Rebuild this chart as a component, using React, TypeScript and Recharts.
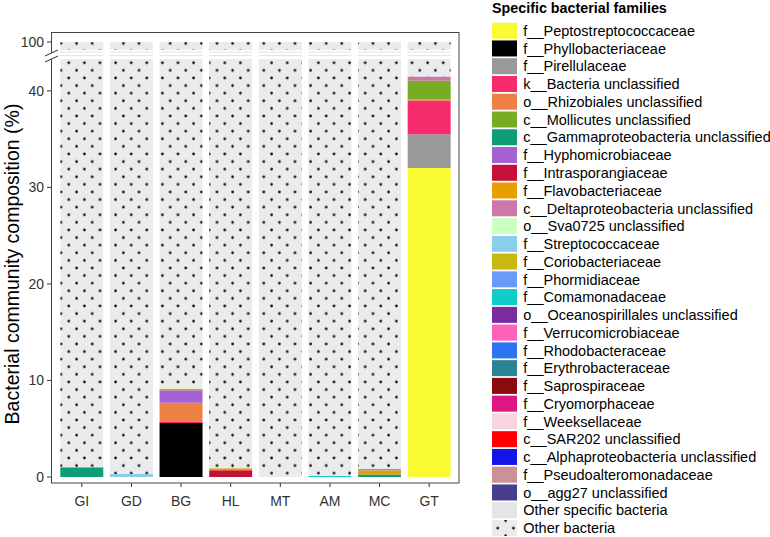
import { BarChart, Bar, XAxis, YAxis } from 'recharts';

const categories = ['GI', 'GD', 'BG', 'HL', 'MT', 'AM', 'MC', 'GT'];

// % of reads per site, same order as categories
const peptostreptococcaceae = [0, 0, 0, 0, 0, 0, 0, 32.0];
const phyllobacteriaceae = [0, 0, 5.6, 0, 0, 0, 0, 0];
const pirellulaceae = [0, 0, 0, 0, 0, 0, 0, 3.5];
const bacteriaUnclassified = [0, 0, 0.1, 0, 0, 0, 0, 3.5];
const rhizobialesUnclassified = [0, 0, 2.0, 0, 0, 0, 0, 0.1];
const mollicutesUnclassified = [0, 0, 0, 0, 0, 0, 0, 1.95];
const gammaproteobacteriaUnclassified = [1.0, 0, 0, 0, 0, 0, 0.25, 0];
const hyphomicrobiaceae = [0, 0, 1.3, 0, 0, 0, 0, 0];
const intrasporangiaceae = [0, 0, 0, 0.7, 0, 0, 0, 0];
const flavobacteriaceae = [0, 0, 0.15, 0.2, 0, 0, 0.45, 0];
const deltaproteobacteriaUnclassified = [0, 0, 0, 0, 0, 0, 0, 0.45];
const sva0725Unclassified = [0, 0, 0.15, 0, 0, 0, 0, 0];
const streptococcaceae = [0, 0.3, 0, 0, 0, 0, 0, 0];
const phormidiaceae = [0, 0, 0, 0, 0, 0, 0.12, 0];
const comamonadaceae = [0, 0, 0, 0, 0, 0.1, 0, 0];
const otherSpecific = [0, 0, 0.1, 0, 0, 0, 0, 0];
const otherBacteria = [99.0, 99.7, 90.6, 99.1, 100, 99.9, 99.18, 58.5];

const lowerTicks = [0, 10, 20, 30, 40];
const upperTicks = [100];

const families: { name: string; color: string; values?: number[] }[] = [
  { name: 'f__Peptostreptococcaceae', color: '#F9F934', values: peptostreptococcaceae },
  { name: 'f__Phyllobacteriaceae', color: '#000000', values: phyllobacteriaceae },
  { name: 'f__Pirellulaceae', color: '#999999', values: pirellulaceae },
  { name: 'k__Bacteria unclassified', color: '#F62B6B', values: bacteriaUnclassified },
  { name: 'o__Rhizobiales unclassified', color: '#EE8244', values: rhizobialesUnclassified },
  { name: 'c__Mollicutes unclassified', color: '#77AD25', values: mollicutesUnclassified },
  { name: 'c__Gammaproteobacteria unclassified', color: '#0F9D77', values: gammaproteobacteriaUnclassified },
  { name: 'f__Hyphomicrobiaceae', color: '#A661D3', values: hyphomicrobiaceae },
  { name: 'f__Intrasporangiaceae', color: '#C5103A', values: intrasporangiaceae },
  { name: 'f__Flavobacteriaceae', color: '#E69F00', values: flavobacteriaceae },
  { name: 'c__Deltaproteobacteria unclassified', color: '#CC79A7', values: deltaproteobacteriaUnclassified },
  { name: 'o__Sva0725 unclassified', color: '#CDFEC2', values: sva0725Unclassified },
  { name: 'f__Streptococcaceae', color: '#89CFEA', values: streptococcaceae },
  { name: 'f__Coriobacteriaceae', color: '#C9B811' },
  { name: 'f__Phormidiaceae', color: '#6A9BFB', values: phormidiaceae },
  { name: 'f__Comamonadaceae', color: '#11CDC9', values: comamonadaceae },
  { name: 'o__Oceanospirillales unclassified', color: '#7A2C9E' },
  { name: 'f__Verrucomicrobiaceae', color: '#FD63B8' },
  { name: 'f__Rhodobacteraceae', color: '#2E74F2' },
  { name: 'f__Erythrobacteraceae', color: '#2A8493' },
  { name: 'f__Saprospiraceae', color: '#8A0B0E' },
  { name: 'f__Cryomorphaceae', color: '#DF1682' },
  { name: 'f__Weeksellaceae', color: '#F9D5E0' },
  { name: 'c__SAR202 unclassified', color: '#FF0000' },
  { name: 'c__Alphaproteobacteria unclassified', color: '#1515E8' },
  { name: 'f__Pseudoalteromonadaceae', color: '#CB9196' },
  { name: 'o__agg27 unclassified', color: '#463F8E' },
];

const OTHER_SPECIFIC = '#E5E5E5';
const OTHER_BG = '#EBEBEB';
const FONT = '"Liberation Sans", Arial, Helvetica, sans-serif';

const rows = categories.map((cat, i) => {
  const row: Record<string, string | number> = { cat };
  families.forEach((f, k) => {
    if (f.values) row[`s${k}`] = f.values[i];
  });
  row.otherSpecific = otherSpecific[i];
  row.otherBacteria = otherBacteria[i];
  return row;
});

const CHART_W = 460;
const X_PAD = { left: 5, right: 5 };
const GAP = 3.3;

function DotPattern({ id }: { id: string }) {
  return (
    <pattern id={id} patternUnits="userSpaceOnUse" x={0} y={0} width={15.6} height={15.2}>
      <rect width={15.6} height={15.2} fill={OTHER_BG} />
      <circle cx={6.4} cy={3.8} r={1.35} fill="#111111" />
      <circle cx={14.2} cy={11.4} r={1.35} fill="#111111" />
    </pattern>
  );
}

function stackBars(otherFill: string) {
  const bars = families
    .map((f, k) =>
      f.values ? (
        <Bar key={f.name} dataKey={`s${k}`} stackId="a" fill={f.color} isAnimationActive={false} />
      ) : null
    )
    .filter(Boolean);
  bars.push(
    <Bar key="otherSpecific" dataKey="otherSpecific" stackId="a" fill={OTHER_SPECIFIC} isAnimationActive={false} />
  );
  bars.push(
    <Bar key="otherBacteria" dataKey="otherBacteria" stackId="a" fill={otherFill} isAnimationActive={false} />
  );
  return bars;
}

const tickStyle = { fill: '#333333', fontSize: 14, fontFamily: FONT };

export default function App() {
  return (
    <div
      style={{
        position: 'absolute',
        left: 0,
        top: 0,
        width: 770,
        height: 537,
        background: '#ffffff',
        fontFamily: FONT,
      }}
    >
      {/* upper panel: 100 */}
      <div style={{ position: 'absolute', left: 0, top: 32 }}>
        <BarChart width={CHART_W} height={18} data={rows} margin={{ top: 10, right: 1, bottom: 0, left: 0 }} barCategoryGap={GAP}>
          <defs>
            <DotPattern id="dots-upper" />
          </defs>
          <XAxis dataKey="cat" hide padding={X_PAD} />
          <YAxis
            width={52}
            domain={[98.8, 100]}
            allowDataOverflow
            ticks={upperTicks}
            axisLine={false}
            tickSize={5}
            tickMargin={3}
            tickLine={{ stroke: '#333333' }}
            tick={tickStyle}
          />
          {stackBars('url(#dots-upper)')}
        </BarChart>
      </div>

      {/* axis break strip */}
      <div style={{ position: 'absolute', left: 0, top: 50 }}>
        <BarChart width={CHART_W} height={9} data={rows} margin={{ top: 0, right: 1, bottom: 0, left: 52 }} barCategoryGap={GAP}>
          <defs>
            <pattern id="break-stripes" patternUnits="userSpaceOnUse" x={0} y={0} width={10} height={9}>
              <rect width={10} height={9} fill="#ffffff" />
              <rect y={1.6} width={10} height={1} fill="#E3E3E3" />
              <rect y={5.1} width={10} height={1} fill="#E3E3E3" />
            </pattern>
          </defs>
          <XAxis dataKey="cat" hide padding={X_PAD} />
          <YAxis hide domain={[43.3, 98.8]} allowDataOverflow />
          {stackBars('url(#break-stripes)')}
        </BarChart>
      </div>

      {/* lower panel: 0 - 43 */}
      <div style={{ position: 'absolute', left: 0, top: 59 }}>
        <BarChart width={CHART_W} height={478} data={rows} margin={{ top: 0, right: 1, bottom: 24, left: 0 }} barCategoryGap={GAP}>
          <defs>
            <DotPattern id="dots-lower" />
          </defs>
          <XAxis
            dataKey="cat"
            height={30}
            padding={X_PAD}
            axisLine={false}
            tickSize={4}
            tickMargin={9}
            tickLine={{ stroke: '#333333' }}
            tick={tickStyle}
            interval={0}
          />
          <YAxis
            width={52}
            domain={[-0.62, 43.3]}
            allowDataOverflow
            ticks={lowerTicks}
            axisLine={false}
            tickSize={5}
            tickMargin={3}
            tickLine={{ stroke: '#333333' }}
            tick={tickStyle}
          />
          {stackBars('url(#dots-lower)')}
        </BarChart>
      </div>

      {/* frame, axis break marks, axis title, legend */}
      <svg
        width={770}
        height={537}
        style={{ position: 'absolute', left: 0, top: 0, pointerEvents: 'none' }}
      >
        <defs>
          <DotPattern id="dots-legend" />
        </defs>
        <rect x={51.5} y={32.5} width={407.5} height={450.5} fill="none" stroke="#444444" strokeWidth={1} />
        <polygon points="45,56 58,50 58,56 45,62" fill="#ffffff" />
        <line x1={45} y1={56} x2={58} y2={50} stroke="#333333" strokeWidth={1} />
        <line x1={45} y1={62} x2={58} y2={56} stroke="#333333" strokeWidth={1} />

        <text
          transform="translate(19,264) rotate(-90)"
          textAnchor="middle"
          fontSize={19.5}
          fill="#000000"
        >
          Bacterial community composition (%)
        </text>

        <text x={492} y={12.7} fontSize={14.3} fontWeight="bold" fill="#000000">
          Specific bacterial families
        </text>
        {[
          ...families.map((f) => ({ name: f.name, fill: f.color })),
          { name: 'Other specific bacteria', fill: OTHER_SPECIFIC },
          { name: 'Other bacteria', fill: 'url(#dots-legend)' },
        ].map((item, i) => {
          const cy = 30.7 + 17.76 * i;
          return (
            <g key={item.name}>
              <rect x={492} y={cy - 8} width={25} height={16} fill={item.fill} />
              <text x={523.3} y={cy + 5.2} fontSize={14.5} fill="#000000">
                {item.name}
              </text>
            </g>
          );
        })}
      </svg>
    </div>
  );
}
